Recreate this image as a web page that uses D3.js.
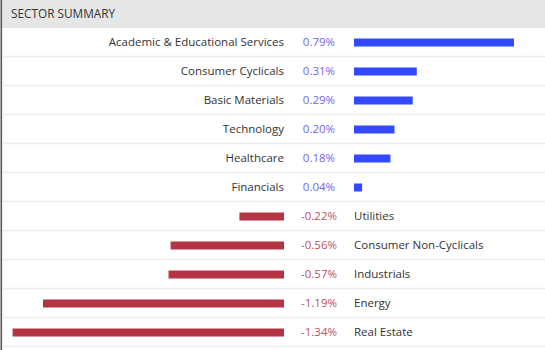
<!DOCTYPE html>
<html>
<head>
<meta charset="utf-8">
<script src="https://cdn.jsdelivr.net/npm/d3@7"></script>
<style>
  body { margin: 0; background: #fff; }
  svg { display: block; font-family: "Open Sans", sans-serif; }
</style>
</head>
<body>
<div id="chart"></div>
<script>
var title = "SECTOR SUMMARY";
var sectors = ["Academic & Educational Services", "Consumer Cyclicals", "Basic Materials",
               "Technology", "Healthcare", "Financials", "Utilities",
               "Consumer Non-Cyclicals", "Industrials", "Energy", "Real Estate"];
var changes = [0.79, 0.31, 0.29, 0.20, 0.18, 0.04, -0.22, -0.56, -0.57, -1.19, -1.34];

var width = 545, height = 350;
var headerH = 28, rowH = 29;
var posStart = 354, negEnd = 284, valueX = 319;

var svg = d3.select("#chart").append("svg")
    .attr("width", width).attr("height", height);

// header
svg.append("rect")
    .attr("x", 2).attr("y", 0)
    .attr("width", width - 2).attr("height", headerH)
    .attr("fill", "#e6e6e6");
svg.append("text")
    .attr("x", 11).attr("y", 18)
    .attr("font-size", 11.8).attr("fill", "#333")
    .text(title);

// left border
svg.append("rect")
    .attr("x", 0.5).attr("y", 0)
    .attr("width", 1.6).attr("height", height)
    .attr("fill", "#555");

var y = d3.scaleBand()
    .domain(sectors)
    .range([headerH, headerH + rowH * sectors.length]);

// one scale for both sides: 0.79% -> 160px
var len = d3.scaleLinear()
    .domain([0, 0.79])
    .range([0, 160]);

var fmt = function(v) { return d3.format(".2f")(v).replace("\u2212", "-") + "%"; };

var rows = svg.selectAll("g.row")
    .data(sectors)
    .enter().append("g")
    .attr("class", "row")
    .attr("transform", function(d) { return "translate(0," + y(d) + ")"; });

// row separators
rows.append("line")
    .attr("x1", 3).attr("x2", width)
    .attr("y1", rowH - 0.5).attr("y2", rowH - 0.5)
    .attr("stroke", "#ececec").attr("stroke-width", 1.5);

rows.append("rect")
    .attr("y", rowH / 2 - 4)
    .attr("height", 8)
    .attr("x", function(d, i) {
        var v = changes[i];
        return v >= 0 ? posStart : negEnd - len(-v);
    })
    .attr("width", function(d, i) { return len(Math.abs(changes[i])); })
    .attr("fill", function(d, i) { return changes[i] >= 0 ? "#3349ff" : "#b53344"; });

rows.append("text")
    .attr("x", valueX)
    .attr("y", rowH / 2 + 3.5)
    .attr("text-anchor", "middle")
    .attr("font-size", 11.5)
    .attr("fill", function(d, i) { return changes[i] >= 0 ? "#7464f2" : "#c24f5c"; })
    .text(function(d, i) { return fmt(changes[i]); });

rows.append("text")
    .attr("x", function(d, i) { return changes[i] >= 0 ? 284 : 354; })
    .attr("y", rowH / 2 + 3.5)
    .attr("text-anchor", function(d, i) { return changes[i] >= 0 ? "end" : "start"; })
    .attr("font-size", 11.5)
    .attr("fill", "#333")
    .text(function(d) { return d; });
</script>
</body>
</html>
